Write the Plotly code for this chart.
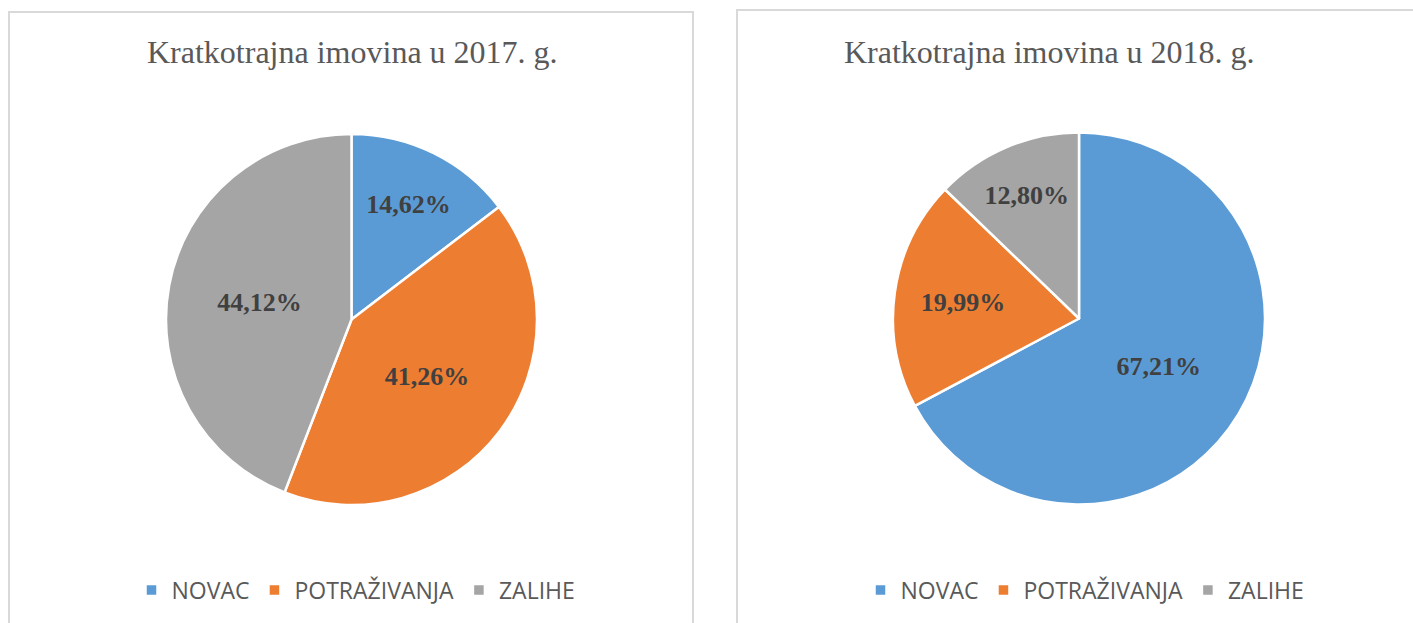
import plotly.graph_objects as go

W, H = 1413, 623
categories = ["NOVAC", "POTRAŽIVANJA", "ZALIHE"]
values_2017 = [14.62, 41.26, 44.12]
values_2018 = [67.21, 19.99, 12.80]
titles = ["Kratkotrajna imovina u 2017. g.", "Kratkotrajna imovina u 2018. g."]
colors = ["#5B9BD5", "#ED7D31", "#A5A5A5"]

def px(x):
    return x / W

def py(y):
    return 1 - y / H

serif = "Liberation Serif, Times New Roman, serif"
label_font = dict(family=serif, size=26, color="#404040")

fig = go.Figure()
fig.add_trace(go.Pie(
    labels=categories, values=values_2017, sort=False, direction="clockwise", rotation=0,
    marker=dict(colors=colors, line=dict(color="white", width=2.5)),
    texttemplate="<b>%{value:.2f}%</b>", textposition="inside", insidetextorientation="horizontal",
    textfont=label_font, hoverinfo="label+percent",
    domain=dict(x=[px(166), px(537)], y=[py(505), py(134)]),
    legend="legend",
))
# zero-width space keeps the second pie's legend entries separate from the first
fig.add_trace(go.Pie(
    labels=[c + "\u200b" for c in categories], values=values_2018, sort=False,
    direction="clockwise", rotation=0,
    marker=dict(colors=colors, line=dict(color="white", width=2.5)),
    texttemplate="<b>%{value:.2f}%</b>", textposition="inside", insidetextorientation="horizontal",
    textfont=label_font, hoverinfo="label+percent",
    domain=dict(x=[px(893), px(1265)], y=[py(505), py(132)]),
    legend="legend2",
))

legend_common = dict(
    orientation="h", xanchor="center", yanchor="middle",
    font=dict(family="Open Sans, sans-serif", size=23, color="#595959"),
    bgcolor="rgba(0,0,0,0)", itemclick=False, itemdoubleclick=False,
)

fig.update_layout(
    width=W, height=H, margin=dict(l=0, r=0, t=0, b=0),
    paper_bgcolor="white", plot_bgcolor="white",
    separators=", ",
    showlegend=True,
    legend=dict(x=px(356), y=py(590), **legend_common),
    legend2=dict(x=px(1085), y=py(590), **legend_common),
    annotations=[
        dict(text=titles[0], x=px(352), y=py(52), xref="paper", yref="paper", showarrow=False,
             xanchor="center", yanchor="middle",
             font=dict(family=serif, size=32, color="#595959")),
        dict(text=titles[1], x=px(1049), y=py(52), xref="paper", yref="paper", showarrow=False,
             xanchor="center", yanchor="middle",
             font=dict(family=serif, size=32, color="#595959")),
    ],
    shapes=[
        dict(type="rect", xref="paper", yref="paper", x0=px(9), x1=px(693), y0=py(640), y1=py(12),
             line=dict(color="#D9D9D9", width=2), fillcolor="rgba(0,0,0,0)", layer="below"),
        dict(type="rect", xref="paper", yref="paper", x0=px(737), x1=px(1430), y0=py(640), y1=py(10),
             line=dict(color="#D9D9D9", width=2), fillcolor="rgba(0,0,0,0)", layer="below"),
    ],
)

fig.write_html("out.html")
